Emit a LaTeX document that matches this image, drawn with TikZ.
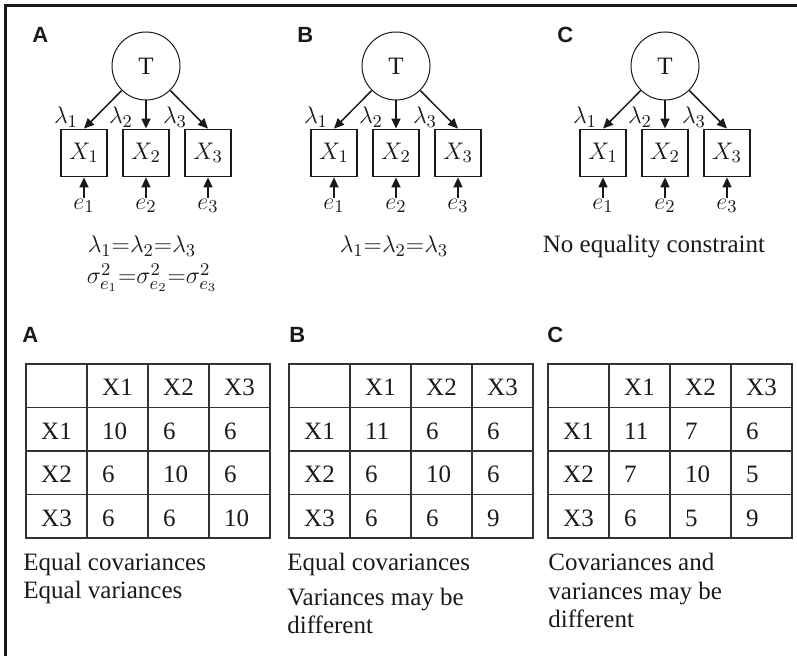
\documentclass[tikz,border=0pt]{standalone}
\usepackage{fontspec}
\setmainfont{Liberation Serif}
\setsansfont{Liberation Sans}
\usepackage{tikz}
\usetikzlibrary{arrows.meta,positioning,matrix}
\definecolor{ink}{HTML}{1A1A1A}
\definecolor{gridline}{HTML}{333333}
\tikzset{
  latent/.style={circle,draw=ink,line width=0.5pt,minimum size=34pt,inner sep=0pt,
    text=ink,font=\fontsize{12.5}{14}\selectfont},
  obsbox/.style={rectangle,draw=ink,line width=0.9pt,minimum width=23pt,
    minimum height=23.5pt,inner sep=0pt,text=ink,font=\fontsize{12.5}{14}\selectfont},
  errlabel/.style={inner sep=0pt,text=ink,font=\fontsize{12.5}{14}\selectfont},
  loadlabel/.style={inner sep=0pt,text=ink,font=\fontsize{12.5}{14}\selectfont},
  eqlabel/.style={inner sep=0pt,anchor=base,text=ink,font=\fontsize{12.5}{14}\selectfont},
  panellabel/.style={inner sep=0pt,anchor=base west,text=ink,
    font=\fontsize{11}{13}\sffamily\bfseries\selectfont},
  semarr/.style={-{Triangle[length=5pt,width=4.5pt]},line width=0.75pt,color=ink},
  frameline/.style={line width=1.5pt,color=ink},
  covtab/.style={matrix of nodes,nodes in empty cells,anchor=north west,inner sep=0pt,
    column sep=-0.8pt,row sep=-0.8pt,
    nodes={draw=gridline,line width=0.8pt,anchor=center,minimum height=21.75pt,
      text width=15.5pt,inner xsep=7.5pt,inner ysep=0pt,align=left,
      text height=10pt,text depth=0pt,text=ink,font=\fontsize{12.5}{14}\selectfont}},
  captext/.style={anchor=north west,inner sep=0pt,align=left,text=ink,
    font=\fontsize{12.5}{14}\selectfont},
}

\begin{document}
\begin{tikzpicture}[x=0.5pt,y=-0.5pt]
  \useasboundingbox (0,0) rectangle (797,656);
  \draw[frameline] (5.5,656) -- (5.5,5.5) -- (797,5.5);

  % one-factor models A, B, C
  \foreach \p/\cx/\lx in {A/146/32,B/396/297,C/665/557}{
    \node[panellabel] (top\p) at (\lx,43) {\p};
    \node[latent] (t\p) at (\cx,66) {T};
    \node[obsbox] (xa\p) at (\cx-62,153) {$X_1$};
    \node[obsbox] (xb\p) at (\cx,153) {$X_2$};
    \node[obsbox] (xc\p) at (\cx+62,153) {$X_3$};
    \node[errlabel, below=10.5pt of xa\p] (ea\p) {$e_1$};
    \node[errlabel, below=10.5pt of xb\p] (eb\p) {$e_2$};
    \node[errlabel, below=10.5pt of xc\p] (ec\p) {$e_3$};
    \node[loadlabel] (la\p) at (\cx-80,117) {$\lambda_1$};
    \node[loadlabel] (lb\p) at (\cx-25,117) {$\lambda_2$};
    \node[loadlabel] (lc\p) at (\cx+29,117) {$\lambda_3$};
    \draw[semarr] (t\p) -- (xa\p.north);
    \draw[semarr] (t\p) -- (xb\p);
    \draw[semarr] (t\p) -- (xc\p.north);
    \draw[semarr] (ea\p) -- (xa\p);
    \draw[semarr] (eb\p) -- (xb\p);
    \draw[semarr] (ec\p) -- (xc\p);
  }

  % constraints
  \node[eqlabel] (eqA1) at (142,253) {$\lambda_1{=}\lambda_2{=}\lambda_3$};
  \node[eqlabel] (eqA2) at (152,284) {$\sigma^2_{e_1}{=}\sigma^2_{e_2}{=}\sigma^2_{e_3}$};
  \node[eqlabel] (eqB1) at (394,253) {$\lambda_1{=}\lambda_2{=}\lambda_3$};
  \node[eqlabel] (eqC1) at (654,253) {No equality constraint};

  % covariance matrices
  \node[panellabel] (tlabA) at (22,343) {A};
  \node[panellabel] (tlabB) at (289,343) {B};
  \node[panellabel] (tlabC) at (547,343) {C};

  \matrix[covtab] (tabA) at (25,363) {
       & X1 & X2 & X3 \\
    X1 & 10 & 6  & 6  \\
    X2 & 6  & 10 & 6  \\
    X3 & 6  & 6  & 10 \\
  };
  \matrix[covtab] (tabB) at (288,363) {
       & X1 & X2 & X3 \\
    X1 & 11 & 6  & 6  \\
    X2 & 6  & 10 & 6  \\
    X3 & 6  & 6  & 9  \\
  };
  \matrix[covtab] (tabC) at (547,363) {
       & X1 & X2 & X3 \\
    X1 & 11 & 7  & 6  \\
    X2 & 7  & 10 & 5  \\
    X3 & 6  & 5  & 9  \\
  };

  \node[captext] (capA) at (23,553) {Equal covariances\\Equal variances};
  \node[captext] (capB) at (287,553) {Equal covariances\\[3.5pt]Variances may be\\different};
  \node[captext] (capC) at (548,553) {Covariances and\\[0.5pt]variances may be\\different};
\end{tikzpicture}
\end{document}
